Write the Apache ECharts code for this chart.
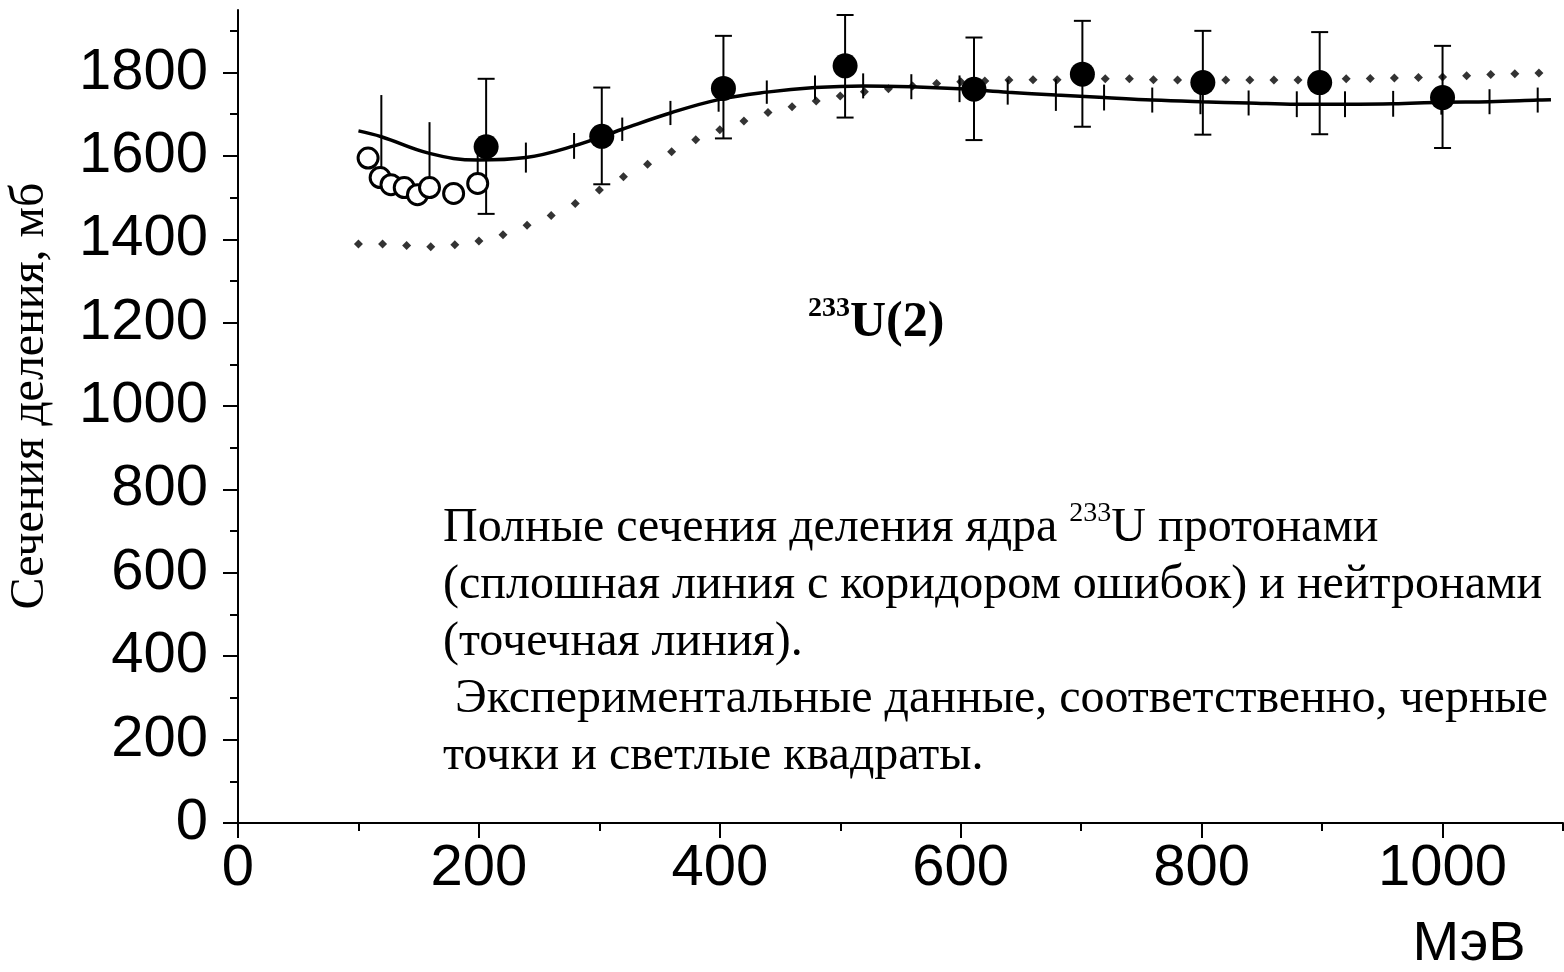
<!DOCTYPE html>
<html>
<head>
<meta charset="utf-8">
<script src="https://cdn.jsdelivr.net/npm/echarts@6/dist/echarts.min.js"></script>
<style>
  html, body { margin: 0; padding: 0; background: #fff; }
  #chart { width: 1564px; height: 972px; }
</style>
</head>
<body>
<div id="chart"></div>
<script>
// ось X: МэВ, ось Y: мб
var xMajorTicks = [0, 200, 400, 600, 800, 1000];
var xMinorTicks = [100, 300, 500, 700, 900, 1100];
var yMajorTicks = [0, 200, 400, 600, 800, 1000, 1200, 1400, 1600, 1800];
var yMinorTicks = [100, 300, 500, 700, 900, 1100, 1300, 1500, 1700, 1900];

// расчет для протонов (сплошная линия)
var protonCalcX = [100, 119, 159, 199, 239, 279, 319, 359, 399, 439, 479, 519, 559, 599, 639, 679, 719, 759, 799, 839, 879, 919, 959, 999, 1039, 1079, 1090];
var protonCalcY = [1660, 1646, 1606, 1590, 1596, 1624, 1664, 1703, 1735, 1753, 1764, 1768, 1766, 1761, 1753, 1746, 1740, 1734, 1730, 1727, 1724, 1724, 1725, 1729, 1730, 1734, 1735];
// коридор ошибок (полуширина), 0 = без отметки
var protonCalcErr = [0, 100, 75, 45, 36, 31, 28, 29, 29, 28, 29, 30, 30, 32, 30, 38, 31, 30, 30, 30, 31, 31, 31, 30, 30, 30, 0];

// расчет для нейтронов (точечная линия)
var neutronCalcX = [100, 120, 140, 160, 180, 200, 220, 240, 260, 280, 300, 320, 340, 360, 380, 400, 420, 440, 460, 480, 500, 520, 540, 560, 580, 600, 620, 640, 660, 680, 700, 720, 740, 760, 780, 800, 820, 840, 860, 880, 900, 920, 940, 960, 980, 1000, 1020, 1040, 1060, 1080];
var neutronCalcY = [1389, 1389, 1385, 1382, 1387, 1396, 1411, 1434, 1457, 1486, 1518, 1550, 1580, 1610, 1639, 1663, 1684, 1704, 1718, 1732, 1744, 1754, 1761, 1768, 1774, 1778, 1780, 1782, 1783, 1783, 1784, 1785, 1785, 1783, 1782, 1782, 1782, 1782, 1782, 1782, 1783, 1785, 1786, 1787, 1788, 1789, 1792, 1795, 1797, 1799];

// эксперимент, протоны (черные точки)
var protonExpX = [206, 302, 403, 504, 611, 701, 801, 898, 1000];
var protonExpY = [1622, 1647, 1762, 1816, 1760, 1796, 1776, 1776, 1740];
var protonExpLow = [1461, 1532, 1642, 1692, 1638, 1670, 1651, 1652, 1619];
var protonExpHigh = [1785, 1764, 1888, 1938, 1884, 1924, 1900, 1897, 1864];

// эксперимент, нейтроны (светлые)
var neutronExpX = [108, 118, 127, 138, 149, 159, 179, 199];
var neutronExpY = [1595, 1548, 1531, 1524, 1507, 1524, 1510, 1534];

var chart = echarts.init(document.getElementById('chart'), null, { renderer: 'canvas' });

function zip(xs, ys) {
  var out = [];
  for (var i = 0; i < xs.length; i++) {
    out.push([xs[i], ys[i]]);
  }
  return out;
}

var barData = [];
for (var i = 0; i < protonExpX.length; i++) {
  barData.push([protonExpX[i], protonExpLow[i], protonExpHigh[i]]);
}
var corridorData = [];
for (var i = 0; i < protonCalcX.length; i++) {
  if (protonCalcErr[i] > 0) {
    corridorData.push([protonCalcX[i], protonCalcY[i] - protonCalcErr[i], protonCalcY[i] + protonCalcErr[i]]);
  }
}

function renderBar(capHalf) {
  return function (params, api) {
    var x = api.value(0);
    var p1 = api.coord([x, api.value(1)]);
    var p2 = api.coord([x, api.value(2)]);
    var st = { stroke: '#000', lineWidth: 2 };
    var children = [{ type: 'line', shape: { x1: p1[0], y1: p1[1], x2: p2[0], y2: p2[1] }, style: st }];
    if (capHalf) {
      children.push({ type: 'line', shape: { x1: p1[0] - capHalf, y1: p1[1], x2: p1[0] + capHalf, y2: p1[1] }, style: st });
      children.push({ type: 'line', shape: { x1: p2[0] - capHalf, y1: p2[1], x2: p2[0] + capHalf, y2: p2[1] }, style: st });
    }
    return { type: 'group', children: children };
  };
}

function plain(v) {
  return String(v);
}

var tickFont = { fontFamily: '"Liberation Sans", Arial, sans-serif', fontSize: 58, color: '#000' };
var serif = '"Liberation Serif", "Times New Roman", serif';

var option = {
  animation: false,
  backgroundColor: '#fff',
  grid: { left: 238, right: 1, top: 10, bottom: 149, containLabel: false },
  xAxis: [{
    type: 'value', min: 0, max: 1100,
    axisLine: { show: true, lineStyle: { color: '#000', width: 2 } },
    axisTick: { show: true, inside: false, length: 15, lineStyle: { color: '#000', width: 2 }, customValues: xMajorTicks },
    axisLabel: Object.assign({ margin: 17, customValues: xMajorTicks, formatter: plain }, tickFont),
    splitLine: { show: false }
  }, {
    type: 'value', min: 0, max: 1100, position: 'bottom',
    axisLine: { show: false },
    axisTick: { show: true, inside: false, length: 8, lineStyle: { color: '#000', width: 2 }, customValues: xMinorTicks },
    axisLabel: { show: false },
    splitLine: { show: false }
  }],
  yAxis: [{
    type: 'value', min: 0, max: 1950,
    axisLine: { show: true, lineStyle: { color: '#000', width: 2 } },
    axisTick: { show: true, inside: false, length: 15, lineStyle: { color: '#000', width: 2 }, customValues: yMajorTicks },
    axisLabel: Object.assign({ margin: 30, customValues: yMajorTicks, formatter: plain, padding: [0, 0, 8, 0] }, tickFont),
    splitLine: { show: false }
  }, {
    type: 'value', min: 0, max: 1950, position: 'left',
    axisLine: { show: false },
    axisTick: { show: true, inside: false, length: 8, lineStyle: { color: '#000', width: 2 }, customValues: yMinorTicks },
    axisLabel: { show: false },
    splitLine: { show: false }
  }],
  series: [{
    name: 'protonCalc',
    type: 'line',
    data: zip(protonCalcX, protonCalcY),
    smooth: 0.4,
    showSymbol: false,
    lineStyle: { color: '#000', width: 3.5 },
    z: 2
  }, {
    name: 'corridor',
    type: 'custom',
    renderItem: renderBar(0),
    data: corridorData,
    encode: { x: 0, y: [1, 2] },
    z: 3
  }, {
    name: 'neutronCalc',
    type: 'scatter',
    data: zip(neutronCalcX, neutronCalcY),
    symbol: 'diamond',
    symbolSize: 9,
    itemStyle: { color: '#000' },
    z: 2
  }, {
    name: 'errBars',
    type: 'custom',
    renderItem: renderBar(8.5),
    data: barData,
    encode: { x: 0, y: [1, 2] },
    z: 4
  }, {
    name: 'protonExp',
    type: 'scatter',
    data: zip(protonExpX, protonExpY),
    symbol: 'circle',
    symbolSize: 25,
    itemStyle: { color: '#000', opacity: 1 },
    z: 5
  }, {
    name: 'neutronExp',
    type: 'scatter',
    data: zip(neutronExpX, neutronExpY),
    symbol: 'circle',
    symbolSize: 20,
    itemStyle: { color: '#fff', borderColor: '#000', borderWidth: 3, opacity: 1 },
    z: 6
  }],
  graphic: [{
    type: 'text', x: 30, y: 396, rotation: Math.PI / 2,
    style: { text: 'Сечения деления, мб', fontFamily: serif, fontSize: 48, fill: '#000', align: 'center', verticalAlign: 'middle' }
  }, {
    type: 'text', x: 1469, y: 945,
    style: { text: 'МэВ', fontFamily: tickFont.fontFamily, fontSize: 56, fill: '#000', align: 'center', verticalAlign: 'middle' }
  }, {
    type: 'text', x: 808, y: 295,
    style: {
      text: '{s|233}{b|U(2)}',
      rich: {
        s: { fontFamily: serif, fontWeight: 'bold', fontSize: 28, fill: '#000', verticalAlign: 'top', lineHeight: 34 },
        b: { fontFamily: serif, fontWeight: 'bold', fontSize: 50, fill: '#000', lineHeight: 56 }
      }
    }
  }, {
    type: 'text', x: 443, y: 500,
    style: {
      text: '{t|Полные сечения деления ядра }{s|233}{t|U протонами}\n' +
        '{t|(сплошная линия с коридором ошибок) и нейтронами}\n' +
        '{t|(точечная линия).}\n' +
        '{t| Экспериментальные данные, соответственно, черные}\n' +
        '{t|точки и светлые квадраты.}',
      rich: {
        t: { fontFamily: serif, fontSize: 48, fill: '#000', lineHeight: 57 },
        s: { fontFamily: serif, fontSize: 28, fill: '#000', verticalAlign: 'top', lineHeight: 36 }
      }
    }
  }]
};

chart.setOption(option);
</script>
</body>
</html>
